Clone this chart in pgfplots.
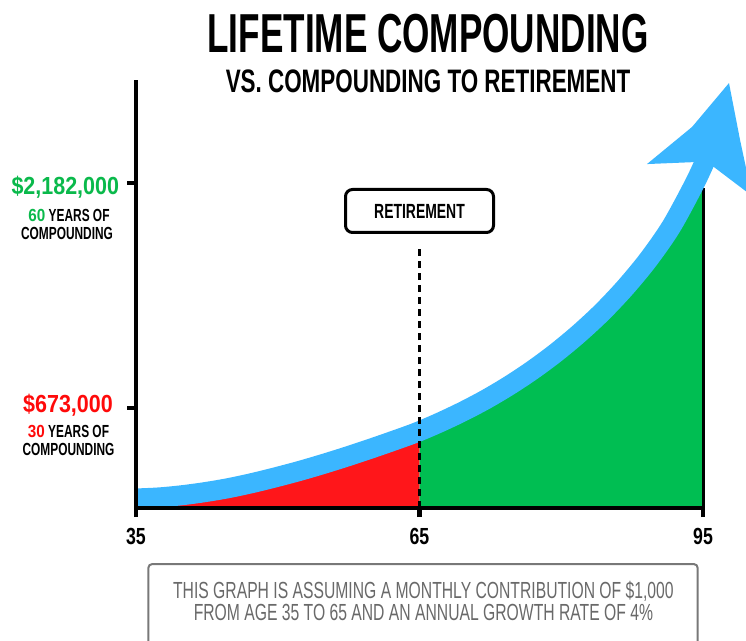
\documentclass[border=0pt]{standalone}
\usepackage{fontspec}
\usepackage{pgfplots}
\pgfplotsset{compat=1.18}
\setmainfont{Liberation Sans}
\newfontfamily\fTitle[FakeStretch=0.64]{Liberation Sans}
\newfontfamily\fSub[FakeStretch=0.69]{Liberation Sans}
\newfontfamily\fLab[FakeStretch=0.68]{Liberation Sans}
\newfontfamily\fNum[FakeStretch=0.87]{Liberation Sans}
\newfontfamily\fTick[FakeStretch=0.76]{Liberation Sans}
\newfontfamily\fNote[FakeStretch=0.674]{Liberation Sans}
\definecolor{cblue}{RGB}{59,182,255}
\definecolor{cred}{RGB}{255,22,26}
\definecolor{cgreen}{RGB}{0,190,82}
\definecolor{tgreen}{RGB}{10,185,75}
\definecolor{tred}{RGB}{255,10,10}
\definecolor{ngray}{RGB}{105,105,105}
\definecolor{bgray}{RGB}{120,120,120}
\begin{document}
\begin{tikzpicture}
\begin{axis}[
  at={(0pt,0pt)}, anchor=south west,
  scale only axis, width=567pt, height=426pt,
  xmin=35, xmax=95, ymin=0, ymax=2860,
  axis lines=left,
  axis line style={-, line width=4.5pt, line cap=rect},
  clip=false,
  axis on top,
  xtick={35,65,95}, xticklabels={35,65,95},
  ytick={673,2182}, yticklabels={},
  tick align=outside, major tick length=9pt,
  tick style={black, line width=4.5pt},
  xticklabel style={font=\fTick\bfseries\fontsize{23.3}{24}\selectfont, inner sep=0pt, yshift=-10.7pt},
]
% value up to retirement (age 35-65), thousands of dollars
\addplot[draw=none, fill=cred, smooth] coordinates {
  (35,0) (37.5,7.5) (40,22.5) (42.5,44) (45,71) (47.5,105) (50,144) (52.5,186)
  (55,232.5) (57.5,282) (60,334.5) (62.5,389.5) (65,447)} \closedcycle;
% value after retirement (age 65-95)
\addplot[draw=none, fill=cgreen, smooth] coordinates {
  (65,447) (67.5,514.5) (70,589.5) (72.5,673) (75,767) (77.5,872) (80,989.5)
  (82.5,1121) (85,1268) (87.5,1436) (90,1628) (92.5,1856) (95,2148)} \closedcycle;
\addplot[black, line width=3pt] coordinates {(95,0) (95,2148)};
% blue growth band
\addplot[cblue, line width=20pt, smooth, line cap=butt] coordinates {
  (35,64) (37.43,71) (39.886,85.9) (42.347,107) (44.81,133.7) (47.275,167.2)
  (49.75,205.8) (52.229,247.5) (54.709,293.5) (57.192,342.7) (59.677,394.9)
  (62.164,449.6) (64.632,506.3) (67.088,572.7) (69.55,646.6) (72.008,728.6)
  (74.466,821.1) (76.923,924.3) (79.38,1039.7) (81.836,1168.8) (84.292,1313.2)
  (86.746,1478.1) (89.198,1666.4) (91.649,1890) (94.104,2176.9) (95.37,2350)};
% arrow head
\addplot[fill=cblue, draw=none] coordinates {(89.07,2309) (93.84,2558) (97.75,2853) (98.92,2471) (100.19,2095) (96.16,2289) (94.37,2323)} --cycle;
% retirement marker
\addplot[black, line width=2.5pt, dash pattern=on 7pt off 5pt] coordinates {(65,0) (65,1765)};
\node[draw, line width=3pt, rounded corners=7pt, fill=white, minimum width=148pt, minimum height=43pt, inner sep=0pt,
      font=\fLab\bfseries\fontsize{20.5}{21}\selectfont] at (axis cs:65,1994) {RETIREMENT};
\end{axis}
% titles
\node[anchor=base, inner sep=0pt] at (292pt,455.3pt) {\fTitle\bfseries\fontsize{54.9}{56}\selectfont LIFETIME COMPOUNDING};
\node[anchor=base, inner sep=0pt] at (292pt,415.3pt) {\fSub\bfseries\fontsize{32.5}{33}\selectfont VS. COMPOUNDING TO RETIREMENT};
% y labels
\node[anchor=base, inner sep=0pt, text=tgreen] at (-70.7pt,313pt) {\fNum\bfseries\fontsize{24.7}{25}\selectfont \$2,182,000};
\node[anchor=base, inner sep=0pt] at (-67pt,286pt) {\bfseries\fontsize{17.5}{18}\selectfont{\fNum\color{tgreen}60}\fLab\ YEARS OF};
\node[anchor=base, inner sep=0pt] at (-69pt,268pt) {\fLab\bfseries\fontsize{17.5}{18}\selectfont COMPOUNDING};
\node[anchor=base, inner sep=0pt, text=tred] at (-68pt,95.5pt) {\fNum\bfseries\fontsize{24.7}{25}\selectfont \$673,000};
\node[anchor=base, inner sep=0pt] at (-67.5pt,71pt) {\bfseries\fontsize{17.5}{18}\selectfont{\fNum\color{tred}30}\fLab\ YEARS OF};
\node[anchor=base, inner sep=0pt] at (-67.5pt,53pt) {\fLab\bfseries\fontsize{17.5}{18}\selectfont COMPOUNDING};
% note box
\draw[bgray, line width=2pt, rounded corners=4pt] (12.3pt,-150pt) rectangle (561.7pt,-56pt);
\node[anchor=base, inner sep=0pt, text=ngray] at (287.4pt,-90.3pt) {\fNote\fontsize{23.3}{24}\selectfont THIS GRAPH IS ASSUMING A MONTHLY CONTRIBUTION OF \$1,000};
\node[anchor=base, inner sep=0pt, text=ngray] at (287.4pt,-112pt) {\fNote\fontsize{23.3}{24}\selectfont FROM AGE 35 TO 65 AND AN ANNUAL GROWTH RATE OF 4\%};
\pgfresetboundingbox
\path[use as bounding box] (-136pt,-132pt) rectangle (610pt,508pt);
\end{tikzpicture}
\end{document}
